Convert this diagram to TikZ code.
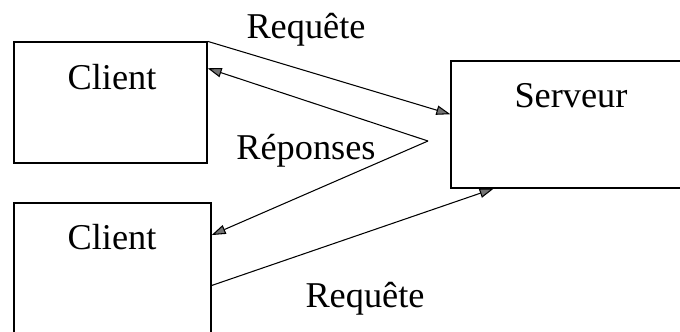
\documentclass[tikz,border=0pt]{standalone}
\usepackage{fontspec}
\setmainfont{Liberation Serif}
\usetikzlibrary{arrows.meta,calc}
\begin{document}
\begin{tikzpicture}[x=0.03cm,y=-0.03cm,
  box/.style={draw, line width=1.1pt, inner sep=0pt},
  lbl/.style={font={\fontsize{31pt}{36pt}\selectfont}, inner sep=0pt, anchor=base},
  msg/.style={line width=0.9pt, -{Triangle[length=12pt,width=8pt,fill=black!55]}}]
\useasboundingbox (0,0) rectangle (680,331);
\node[box, minimum width=5.79cm, minimum height=3.63cm] (client1) at (110.5,102.5) {};
\node[box, minimum width=5.91cm, minimum height=4.05cm] (client2) at (112.5,270.5) {};
\node[box, minimum width=7.17cm, minimum height=3.81cm] (server) at (570.5,124.5) {};

\node[lbl] (client1txt) at (112,89) {Client};
\node[lbl] (client2txt) at (112,249) {Client};
\node[lbl] (servertxt) at (571,107) {Serveur};
\node[lbl] (req1) at (306,38) {Requête};
\node[lbl] (resp) at (306,159) {Réponses};
\node[lbl] (req2) at (365,307) {Requête};

\coordinate (hub) at (428,141);

\draw[msg] (client1.north east) -- ($(server.north west)!0.42!(server.south west)$);
\draw[msg] (hub) -- ($(client1.north east)!0.22!(client1.south east)$);
\draw[msg] (hub) -- ($(client2.north east)!0.24!(client2.south east)$);
\draw[msg] ($(client2.north east)!0.61!(client2.south east)$) -- ($(server.south west)!0.18!(server.south east)$);
\end{tikzpicture}
\end{document}
